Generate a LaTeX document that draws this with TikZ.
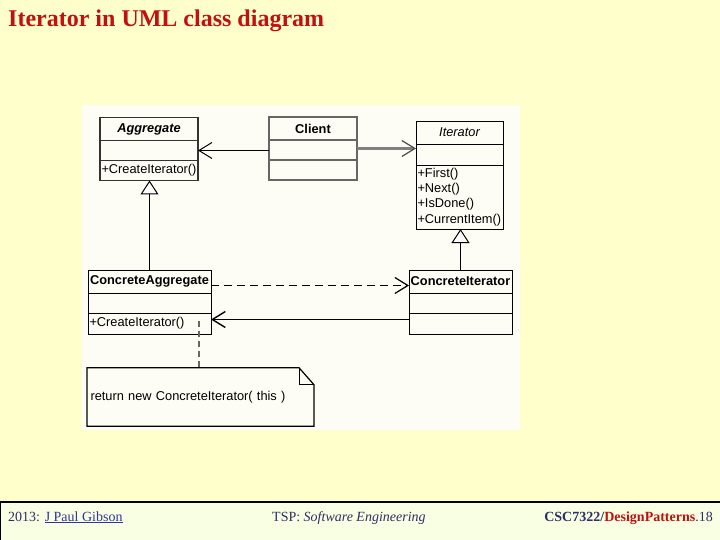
\documentclass[tikz,border=0pt]{standalone}
\usepackage{fontspec}
\setmainfont{Liberation Serif}
\newfontfamily\umlfont{Liberation Sans}
\usepackage{xcolor}
\usepackage{tikz}
\usetikzlibrary{arrows.meta, positioning}

\definecolor{slidebg}{HTML}{FFFFCC}
\definecolor{footbg}{HTML}{F8FFE2}
\definecolor{panelbg}{HTML}{FDFDF6}
\definecolor{titlered}{HTML}{C01010}
\definecolor{footnavy}{HTML}{2E2E66}
\definecolor{linkblue}{HTML}{3333A0}

\begin{document}
\begin{tikzpicture}[
    x=1pt, y=-1pt,
    cname/.style={draw, minimum height=23pt, inner sep=1pt, outer sep=0pt, font=\umlfont\fontsize{12.8}{14}\selectfont\bfseries},
    ccomp/.style={draw, minimum height=20pt, inner xsep=1.5pt, inner ysep=1pt, outer sep=0pt, align=left, font=\umlfont\fontsize{12.8}{15.3}\selectfont},
    assoc/.style={draw, line width=1pt, -{Straight Barb[length=13pt, width=16pt]}},
    inherit/.style={draw, line width=1pt, -{Triangle[open, fill=white, length=14pt, width=18pt]}},
    notelink/.style={draw, dashed, dash pattern=on 6pt off 4pt, line width=1.2pt, gray!80!black}
]

    % Fond de la diapositive
    \useasboundingbox (0,0) rectangle (720,540);
    \fill[slidebg] (0,0) rectangle (720,502);
    \fill[panelbg] (82,105) rectangle (520,430);

    \node[anchor=base west, inner sep=0pt, font=\fontsize{24}{26}\selectfont\bfseries, text=titlered] (title) at (8,27) {Iterator in UML class diagram};

    % Classes
    \node[cname, minimum width=98pt, draw=black!80, line width=1.6pt] (agg) at (149,129) {\itshape Aggregate};
    \node[ccomp, minimum width=98pt, draw=black!80, line width=1.6pt, below=0pt of agg] (agg_att) {};
    \node[ccomp, text width=95pt, draw=black!80, line width=1.6pt, below=0pt of agg_att] (agg_ops) {+CreateIterator()};

    \node[cname, minimum width=88pt, draw=black!60, line width=2pt] (cli) at (313,129) {Client};
    \node[ccomp, minimum width=88pt, draw=black!60, line width=2pt, below=0pt of cli] (cli_att) {};
    \node[ccomp, minimum width=88pt, draw=black!60, line width=2pt, below=0pt of cli_att] (cli_ops) {};

    \node[cname, minimum width=87pt] (itr) at (459.5,132.5) {\mdseries\itshape Iterator};
    \node[ccomp, minimum width=87pt, minimum height=21pt, below=0pt of itr] (itr_att) {};
    \node[ccomp, text width=84pt, minimum height=64pt, below=0pt of itr_att] (itr_ops) {+First()\\+Next()\\+IsDone()\\+CurrentItem()};

    \node[cname, minimum width=123pt] (cagg) at (149.5,281.5) {ConcreteAggregate};
    \node[ccomp, minimum width=123pt, below=0pt of cagg] (cagg_att) {};
    \node[ccomp, text width=120pt, minimum height=21pt, below=0pt of cagg_att] (cagg_ops) {+CreateIterator()};

    \node[cname, minimum width=103pt] (citr) at (460.5,281.5) {ConcreteIterator};
    \node[ccomp, minimum width=103pt, below=0pt of citr] (citr_att) {};
    \node[ccomp, minimum width=103pt, minimum height=21pt, below=0pt of citr_att] (citr_ops) {};

    % Relations
    \draw[assoc] (cli_att.west) -- (agg_att.east);
    \draw[line width=3pt, gray, -{Straight Barb[length=13pt, width=16pt, line width=1.2pt, color=black!70]}] ([yshift=2pt]cli_att.east) -- ([yshift=2pt]cli_att.east -| itr_att.west);
    \draw[inherit] (cagg.north) -- (cagg.north |- agg_ops.south);
    \draw[inherit] (citr.north) -- (citr.north |- itr_ops.south);
    \draw[assoc, dashed, dash pattern=on 8pt off 5pt, line width=1.2pt] ([yshift=-4pt]cagg.east) -- ([yshift=-4pt]cagg.east -| citr.west);
    \draw[assoc, line width=1.4pt] ([yshift=4pt]citr_ops.west) -- ([yshift=4pt]citr_ops.west -| cagg_ops.east);

    % Note
    \node[anchor=west, font=\umlfont\fontsize{12.8}{14}\selectfont, minimum width=226pt, minimum height=58pt, text width=220pt, align=left] (note) at (87,397) {return new ConcreteIterator( this )};
    \draw[line width=1.2pt] (note.north west) -- ([xshift=-15pt]note.north east) -- ([yshift=-17pt]note.north east) -- (note.south east) -- (note.south west) -- cycle;
    \draw[line width=0.8pt] ([xshift=-15pt]note.north east) -- ([xshift=-15pt,yshift=-17pt]note.north east) -- ([yshift=-17pt]note.north east);
    \coordinate (opslink) at (199,321);
    \draw[notelink] (opslink) -- (opslink |- note.north);

    % Pied de page
    \fill[footbg] (0,502) rectangle (720,540);
    \draw[line width=1.2pt] (0.6,540) -- (0.6,502) -- (720,502);
    \node[anchor=base west, font=\fontsize{14}{16}\selectfont, text=footnavy, inner sep=0pt] (foot_left) at (8,521) {2013: \textcolor{linkblue}{\underline{J Paul Gibson}}};
    \node[anchor=base west, font=\fontsize{14}{16}\selectfont, text=footnavy, inner sep=0pt] (foot_mid) at (272,521) {TSP: \textit{Software Engineering}};
    \node[anchor=base east, font=\fontsize{14}{16}\selectfont, text=footnavy, inner sep=0pt] (foot_right) at (713,521) {\textbf{CSC7322/}\textcolor{titlered}{\textbf{DesignPatterns}}.18};

\end{tikzpicture}
\end{document}
